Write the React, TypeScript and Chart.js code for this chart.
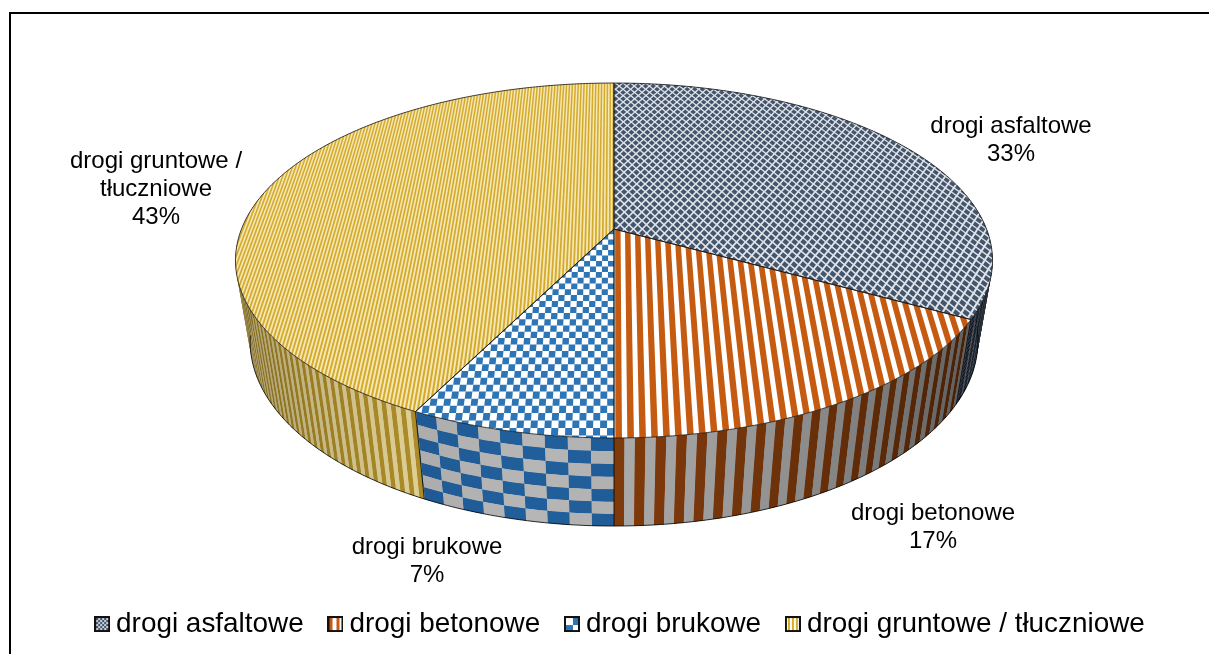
import React, { useEffect, useRef } from "react";
import { Chart, registerables } from "chart.js";

Chart.register(...registerables);

const categories = ["drogi asfaltowe", "drogi betonowe", "drogi brukowe", "drogi gruntowe / tłuczniowe"];
const shares = [33.0, 17.0, 7.4, 42.6];
const labelLines = [["drogi asfaltowe"], ["drogi betonowe"], ["drogi brukowe"], ["drogi gruntowe /", "tłuczniowe"]];

const FONT = '"Liberation Sans", Arial, sans-serif';
// camera model of the tilted disc
const CX = 614, Y0 = 229, R = 372.5, H = 171.9, K = 0.1775, M = 0.039, DEPTH = 84;
const labelAnchors = [[1011, 126], [933, 513], [427, 547], [156, 161]];

type Pt = [number, number];
const proj = (u: number, v: number, z = 0): Pt => {
  const w = 1 + M * z + K * v;
  return [CX + (R * u) / w, Y0 + (-H * v + DEPTH * z) / w];
};
const onCircle = (t: number, z = 0) => proj(Math.sin(t), Math.cos(t), z);

function quad(ctx: CanvasRenderingContext2D, pts: Pt[], fill: string) {
  ctx.beginPath();
  pts.forEach((p, i) => (i ? ctx.lineTo(p[0], p[1]) : ctx.moveTo(p[0], p[1])));
  ctx.closePath();
  ctx.fillStyle = fill;
  ctx.fill();
}

function shade(hex: string, f: number) {
  const n = parseInt(hex.slice(1), 16);
  const c = [(n >> 16) & 255, (n >> 8) & 255, n & 255].map((x) => Math.round(x * f));
  return `rgb(${c[0]},${c[1]},${c[2]})`;
}

// ---- top faces: textures live in the disc plane ----
function topTexture(ctx: CanvasRenderingContext2D, i: number) {
  const rect = (a: number, b: number, c: number, d: number, col: string) =>
    quad(ctx, [proj(a, b), proj(c, b), proj(c, d), proj(a, d)], col);
  if (i === 0) {
    rect(-1.05, -1.05, 1.05, 1.05, "#dfe4ea");
    const du = 0.0237, dv = 0.05;
    let row = 0;
    for (let v = -1.05; v < 1.05; v += dv / 2, row++) {
      for (let u = -1.05 + (row % 2 ? du / 2 : 0); u < 1.05; u += du) {
        quad(ctx, [proj(u - du * 0.37, v), proj(u, v + dv * 0.37), proj(u + du * 0.37, v), proj(u, v - dv * 0.37)], "#44546a");
      }
    }
  } else if (i === 1) {
    rect(-1.05, -1.05, 1.05, 1.05, "#ffffff");
    const du = 0.0265;
    for (let n = 0; n * du < 1.05; n++) rect(n * du + 0.003, -1.05, n * du + du * 0.55 + 0.003, 1.05, "#c55a11");
  } else if (i === 2) {
    rect(-1.05, -1.05, 1.05, 1.05, "#ffffff");
    const du = 0.0155, dv = 0.03;
    for (let a = 0; a * du < 1.05; a++)
      for (let b = 0; b * dv < 1.05; b++)
        if ((a + b) % 2 === 0) rect(-a * du - du, -1.05 + b * dv, -a * du, -1.05 + (b + 1) * dv, "#2e75b6");
  } else {
    rect(-1.05, -1.05, 1.05, 1.05, "#f5e8b4");
    const du = 0.0092;
    for (let n = 0; n * du < 1.05; n++) rect(-n * du - du * 0.5, -1.05, -n * du, 1.05, "#d4aa2e");
  }
}

// ---- side wall: textures are laid out by angle and depth ----
function wallLight(t: number) {
  const u = Math.sin(t);
  return 1 - 0.42 * Math.pow(Math.abs(u + 0.18), 1.5);
}
function wallStrips(a0: number, a1: number, i: number) {
  const out: { t0: number; t1: number; z0: number; z1: number; col: string }[] = [];
  const push = (t0: number, t1: number, z0: number, z1: number, base: string) => {
    const tm = (t0 + t1) / 2;
    out.push({ t0, t1, z0, z1, col: shade(base, wallLight(tm)) });
  };
  const deg = Math.PI / 180;
  if (i === 0) {
    const s = 2.6 * deg;
    const nz = 18;
    for (let t = a1; t > a0; t -= s) {
      const b = Math.max(a0, t - s);
      push(b, t, 0, 1, "#8f98a8");
      for (let z = 0; z < nz; z++) push(b + (t - b) * 0.18, t - (t - b) * 0.18, (z + 0.12) / nz, (z + 0.88) / nz, "#1d2b40");
    }
  } else if (i === 1) {
    const s = 1.33 * deg;
    let n = 0;
    for (let t = a1; t > a0; t -= s, n++) push(Math.max(a0, t - s), t, 0, 1, n % 2 ? "#b0b0b0" : "#843c0c");
  } else if (i === 2) {
    const s = 2.95 * deg, rows = 7;
    let n = 0;
    for (let t = a0; t < a1; t += s, n++) {
      const e = Math.min(a1, t + s);
      for (let z = 0; z < rows; z++) push(t, e, z / rows, (z + 1) / rows, z % 2 === n % 2 ? "#215f9c" : "#b6b6b6");
    }
  } else {
    const s = 0.78 * deg;
    let n = 0;
    for (let t = a0; t < a1; t += s, n++) push(t, Math.min(a1, t + s), 0, 1, n % 2 ? "#ecdca0" : "#b8952a");
  }
  return out;
}

function paintWall(ctx: CanvasRenderingContext2D, a0: number, a1: number, i: number) {
  wallStrips(a0, a1, i).forEach((s) => {
    const pts: Pt[] = [];
    const n = Math.max(1, Math.ceil((s.t1 - s.t0) / 0.02));
    for (let k = 0; k <= n; k++) pts.push(onCircle(s.t0 + ((s.t1 - s.t0) * k) / n, s.z0));
    for (let k = n; k >= 0; k--) pts.push(onCircle(s.t0 + ((s.t1 - s.t0) * k) / n, s.z1));
    quad(ctx, pts, s.col);
  });
}

function arcPath(ctx: CanvasRenderingContext2D, a0: number, a1: number, z: number, first: boolean) {
  const n = Math.max(2, Math.ceil((a1 - a0) / 0.01));
  for (let k = 0; k <= n; k++) {
    const p = onCircle(a0 + ((a1 - a0) * k) / n, z);
    if (k === 0 && first) ctx.moveTo(p[0], p[1]);
    else ctx.lineTo(p[0], p[1]);
  }
}

const disc3d = {
  id: "disc3d",
  beforeDatasetsDraw(chart: any) {
    const ctx: CanvasRenderingContext2D = chart.ctx;
    const arcs = chart.getDatasetMeta(0).data;
    const angles = arcs.map((a: any) => [a.startAngle + Math.PI / 2, a.endAngle + Math.PI / 2]);
    const minT = (78 * Math.PI) / 180, maxT = (282 * Math.PI) / 180;
    ctx.save();

    // walls, far pieces first
    [0, 3, 1, 2].forEach((i) => {
      const a0 = Math.max(angles[i][0], minT), a1 = Math.min(angles[i][1], maxT);
      if (a1 > a0) paintWall(ctx, a0, a1, i);
    });

    // top faces
    angles.forEach((a: number[], i: number) => {
      ctx.save();
      ctx.beginPath();
      const c = proj(0, 0);
      ctx.moveTo(c[0], c[1]);
      arcPath(ctx, a[0], a[1], 0, false);
      ctx.closePath();
      ctx.clip();
      topTexture(ctx, i);
      ctx.restore();
    });

    // the reference is a resampled picture: soften the fine textures once
    ctx.save();
    ctx.beginPath();
    ctx.rect(200, 60, 830, 480);
    ctx.clip();
    (ctx as any).filter = "blur(0.55px)";
    ctx.drawImage(chart.canvas, 0, 0);
    ctx.restore();

    ctx.strokeStyle = "rgba(0,0,0,0.8)";
    ctx.lineWidth = 1;
    ctx.beginPath();
    arcPath(ctx, (96 * Math.PI) / 180, (262 * Math.PI) / 180, 1, true);
    ctx.stroke();
    angles.forEach((a: number[]) => {
      if (a[0] > minT && a[0] < maxT) {
        const p = onCircle(a[0], 0), q = onCircle(a[0], 1);
        ctx.beginPath();
        ctx.moveTo(p[0], p[1]);
        ctx.lineTo(q[0], q[1]);
        ctx.stroke();
      }
    });
    angles.forEach((a: number[]) => {
      ctx.beginPath();
      const c = proj(0, 0);
      ctx.moveTo(c[0], c[1]);
      arcPath(ctx, a[0], a[1], 0, false);
      ctx.closePath();
      ctx.strokeStyle = "rgba(20,20,20,0.8)";
      ctx.lineWidth = 1;
      ctx.stroke();
    });
    ctx.restore();
    return false;
  },
  afterDraw(chart: any) {
    const ctx: CanvasRenderingContext2D = chart.ctx;
    // outer frame
    ctx.save();
    ctx.strokeStyle = "#000";
    ctx.lineWidth = 2;
    ctx.beginPath();
    ctx.moveTo(10, 654);
    ctx.lineTo(10, 13);
    ctx.lineTo(1209, 13);
    ctx.stroke();
    // data labels
    ctx.fillStyle = "#000";
    ctx.font = `24px ${FONT}`;
    ctx.textAlign = "center";
    ctx.textBaseline = "middle";
    const vals: number[] = chart.data.datasets[0].data;
    const total = vals.reduce((a, b) => a + b, 0);
    labelLines.forEach((lines, i) => {
      const all = [...lines, `${Math.round((vals[i] / total) * 100)}%`];
      all.forEach((t, j) => ctx.fillText(t, labelAnchors[i][0], labelAnchors[i][1] + j * 28));
    });
    ctx.restore();
  },
};

function swatch(i: number) {
  const c = document.createElement("canvas");
  c.width = 16;
  c.height = 16;
  const g = c.getContext("2d")!;
  g.fillStyle = "#fff";
  g.fillRect(0, 0, 16, 16);
  if (i === 0) {
    g.fillStyle = "#44546a";
    g.fillRect(2, 2, 12, 12);
    g.fillStyle = "#c9d1da";
    for (let y = 2; y < 14; y += 2)
      for (let x = 2 + ((y / 2) % 2) * 2; x < 14; x += 4) g.fillRect(x, y, 2, 2);
  } else if (i === 1) {
    g.fillStyle = "#c55a11";
    g.fillRect(2, 2, 3, 12);
    g.fillRect(9, 2, 3, 12);
  } else if (i === 2) {
    g.fillStyle = "#2e75b6";
    g.fillRect(2, 2, 12, 12);
    g.fillStyle = "#fff";
    g.fillRect(2, 2, 7, 7);
    g.fillRect(9, 9, 5, 5);
  } else {
    g.fillStyle = "#d9ae2a";
    g.fillRect(3, 2, 2, 12);
    g.fillRect(7, 2, 2, 12);
    g.fillRect(11, 2, 2, 12);
  }
  g.strokeStyle = "#111";
  g.lineWidth = 2;
  g.strokeRect(1, 1, 14, 14);
  return c;
}

export default function App() {
  const ref = useRef<HTMLCanvasElement>(null);
  useEffect(() => {
    const chart = new Chart(ref.current!, {
      type: "pie",
      data: { labels: categories, datasets: [{ data: shares, borderWidth: 0, backgroundColor: ["#44546a", "#c55a11", "#2e75b6", "#d9ae2a"] }] },
      options: {
        responsive: false,
        animation: false,
        devicePixelRatio: 1,
        layout: { padding: { top: 20, bottom: 6, left: 58, right: 20 } },
        plugins: {
          tooltip: { enabled: false },
          legend: {
            position: "bottom",
            onClick: () => {},
            labels: {
              font: { family: FONT, size: 27.9 },
              color: "#000",
              usePointStyle: true,
              boxWidth: 0.01,
              padding: 31.8,
              generateLabels: () =>
                categories.map((text, i) => ({ text, pointStyle: swatch(i), datasetIndex: 0, index: i, hidden: false, fontColor: "#000" })) as any,
            },
          },
        },
      },
      plugins: [disc3d as any],
    });
    return () => chart.destroy();
  }, []);
  return (
    <div style={{ position: "fixed", left: 0, top: 0, width: 1209, height: 654, background: "#fff", overflow: "hidden" }}>
      <canvas ref={ref} width={1209} height={654} style={{ display: "block" }} />
    </div>
  );
}
